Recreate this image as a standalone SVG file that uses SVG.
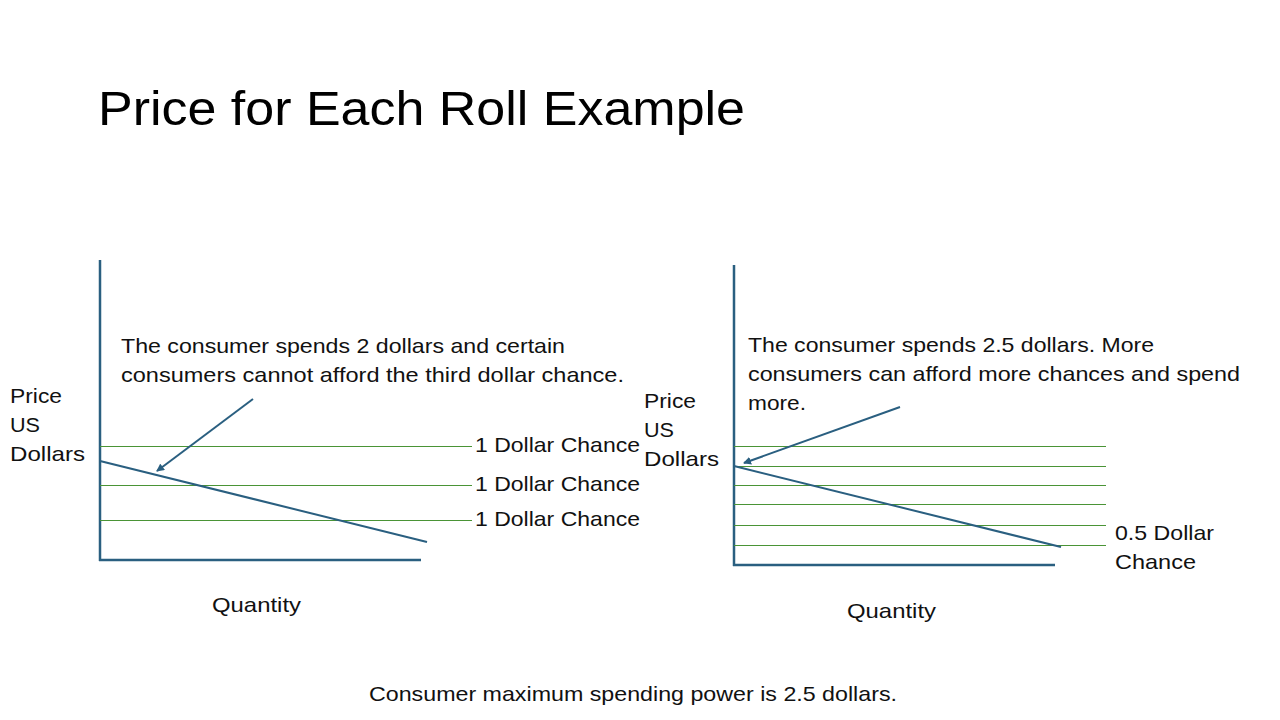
<svg xmlns="http://www.w3.org/2000/svg" width="1280" height="720" viewBox="0 0 1280 720">
<style>
.t{font-family:"Liberation Sans",Arial,sans-serif;font-size:21px;fill:#111}
.title{font-family:"Liberation Sans",Arial,sans-serif;font-size:48px;fill:#000}
.ax{stroke:#2a5f80;stroke-width:2.5;fill:none}
.dm{stroke:#2a5f80;stroke-width:2;fill:none}
.gr{stroke:#4a9436;stroke-width:1;fill:none}
</style>
<defs>
<marker id="ah" markerWidth="8" markerHeight="8" refX="7" refY="4" orient="auto" markerUnits="userSpaceOnUse">
<path d="M0,0 L8,4 L0,8 Z" fill="#2a5f80"/>
</marker>
</defs>
<rect width="1280" height="720" fill="#fff"/>
<text class="title" x="98" y="125" textLength="647" lengthAdjust="spacingAndGlyphs">Price for Each Roll Example</text>

<g id="left-chart">
<line class="ax" x1="100" y1="260" x2="100" y2="561"/>
<line class="ax" x1="99" y1="560" x2="421" y2="560"/>
<line class="gr" x1="100" y1="446.5" x2="472" y2="446.5"/>
<line class="gr" x1="100" y1="485.5" x2="472" y2="485.5"/>
<line class="gr" x1="100" y1="520.5" x2="472" y2="520.5"/>
<line class="dm" x1="100" y1="461" x2="427" y2="542"/>
<text class="t" x="10" y="403" textLength="52" lengthAdjust="spacingAndGlyphs">Price</text>
<text class="t" x="10" y="432" textLength="30" lengthAdjust="spacingAndGlyphs">US</text>
<text class="t" x="10" y="461" textLength="75" lengthAdjust="spacingAndGlyphs">Dollars</text>
<text class="t" x="475" y="452" textLength="165" lengthAdjust="spacingAndGlyphs">1 Dollar Chance</text>
<text class="t" x="475" y="491" textLength="165" lengthAdjust="spacingAndGlyphs">1 Dollar Chance</text>
<text class="t" x="475" y="526" textLength="165" lengthAdjust="spacingAndGlyphs">1 Dollar Chance</text>
<text class="t" x="212" y="612" textLength="89" lengthAdjust="spacingAndGlyphs">Quantity</text>
<text class="t" x="121" y="353" textLength="444" lengthAdjust="spacingAndGlyphs">The consumer spends 2 dollars and certain</text>
<text class="t" x="121" y="382" textLength="503" lengthAdjust="spacingAndGlyphs">consumers cannot afford the third dollar chance.</text>
</g>

<g id="right-chart">
<line class="ax" x1="734" y1="265" x2="734" y2="566"/>
<line class="ax" x1="733" y1="565" x2="1055" y2="565"/>
<line class="gr" x1="734" y1="446.5" x2="1106" y2="446.5"/>
<line class="gr" x1="734" y1="466.5" x2="1106" y2="466.5"/>
<line class="gr" x1="734" y1="485.5" x2="1106" y2="485.5"/>
<line class="gr" x1="734" y1="504.5" x2="1106" y2="504.5"/>
<line class="gr" x1="734" y1="525.5" x2="1106" y2="525.5"/>
<line class="gr" x1="734" y1="545.5" x2="1106" y2="545.5"/>
<line class="dm" x1="734" y1="466" x2="1061" y2="547"/>
<text class="t" x="644" y="408" textLength="52" lengthAdjust="spacingAndGlyphs">Price</text>
<text class="t" x="644" y="437" textLength="30" lengthAdjust="spacingAndGlyphs">US</text>
<text class="t" x="644" y="466" textLength="75" lengthAdjust="spacingAndGlyphs">Dollars</text>
<text class="t" x="1115" y="540" textLength="99" lengthAdjust="spacingAndGlyphs">0.5 Dollar</text>
<text class="t" x="1115" y="569" textLength="81" lengthAdjust="spacingAndGlyphs">Chance</text>
<text class="t" x="847" y="618" textLength="89" lengthAdjust="spacingAndGlyphs">Quantity</text>
<text class="t" x="748" y="352" textLength="406" lengthAdjust="spacingAndGlyphs">The consumer spends 2.5 dollars. More</text>
<text class="t" x="748" y="381" textLength="492" lengthAdjust="spacingAndGlyphs">consumers can afford more chances and spend</text>
<text class="t" x="748" y="410" textLength="58" lengthAdjust="spacingAndGlyphs">more.</text>
</g>

<g id="connectors">
<line class="dm" x1="253" y1="399" x2="157" y2="471" marker-end="url(#ah)"/>
<line class="dm" x1="900" y1="407" x2="744" y2="463" marker-end="url(#ah)"/>
</g>

<text class="t" x="369" y="701" textLength="528" lengthAdjust="spacingAndGlyphs">Consumer maximum spending power is 2.5 dollars.</text>
</svg>
